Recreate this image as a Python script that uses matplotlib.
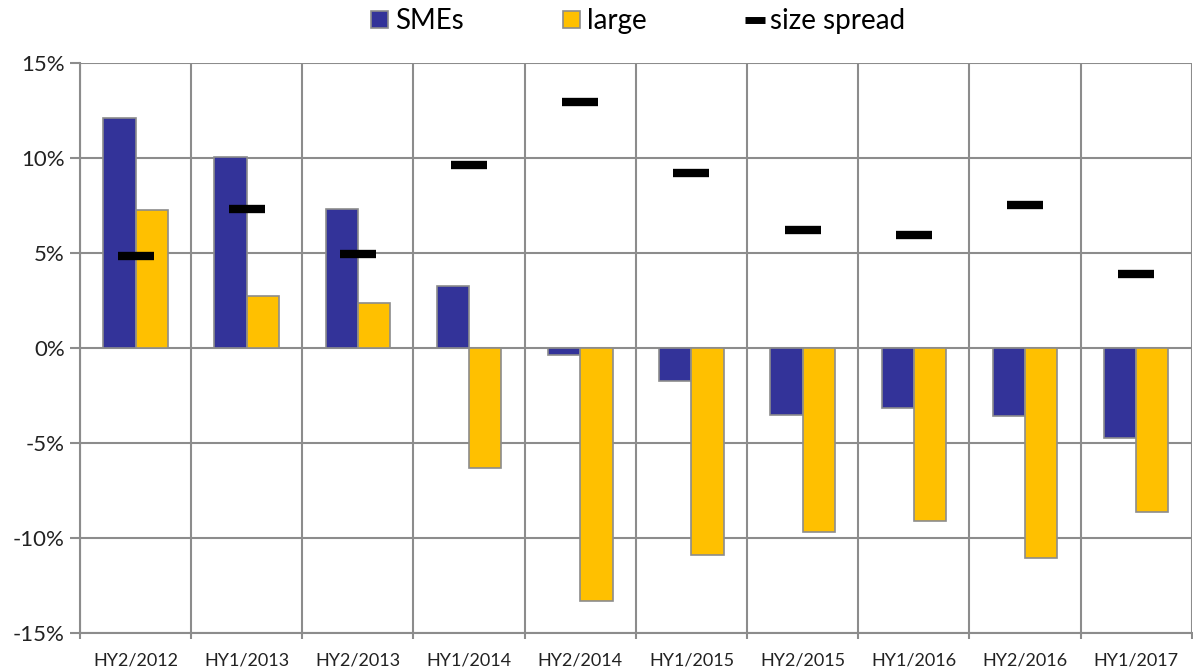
import matplotlib
matplotlib.use("Agg")
import matplotlib.pyplot as plt
from matplotlib.ticker import FixedLocator, FuncFormatter
from matplotlib.lines import Line2D
from matplotlib.patches import Patch
import numpy as np

plt.rcParams['font.family'] = ['Lato', 'DejaVu Sans']

categories = ["HY2/2012", "HY1/2013", "HY2/2013", "HY1/2014", "HY2/2014",
              "HY1/2015", "HY2/2015", "HY1/2016", "HY2/2016", "HY1/2017"]
smes = [12.1, 10.05, 7.3, 3.26, -0.37, -1.74, -3.5, -3.16, -3.58, -4.74]
large = [7.26, 2.74, 2.37, -6.3, -13.3, -10.9, -9.7, -9.1, -11.05, -8.63]
spread = [4.85, 7.3, 4.95, 9.65, 12.95, 9.2, 6.2, 5.95, 7.5, 3.9]
yticks = [-15, -10, -5, 0, 5, 10, 15]

c_sme = "#333399"
c_large = "#FFC000"
grid_c = "#8c8c8c"
edge_c = "#8c8c8c"

fig = plt.figure(figsize=(11.93, 6.68), dpi=100)
ax = fig.add_axes([0.067, 0.052, 0.932, 0.854])

x = np.arange(len(categories))
w = 0.29
ax.bar(x - w/2, smes, width=w, color=c_sme, edgecolor=edge_c, linewidth=1.2, zorder=3)
ax.bar(x + w/2, large, width=w, color=c_large, edgecolor=edge_c, linewidth=1.2, zorder=3)
ax.plot(x, spread, linestyle='none', marker='_', markersize=26, markeredgewidth=6,
        color='black', zorder=4)

ax.set_xlim(-0.5, len(categories) - 0.5)
ax.set_ylim(-15, 15)
ax.yaxis.set_major_locator(FixedLocator(yticks))
ax.yaxis.set_major_formatter(FuncFormatter(lambda v, p: f"{int(v)}%"))
ax.set_xticks(x)
ax.set_xticklabels(categories, fontsize=13)
ax.xaxis.set_minor_locator(FixedLocator(np.arange(-0.5, len(categories), 1.0)))
ax.tick_params(axis='x', which='major', length=0, pad=14)
ax.tick_params(axis='x', which='minor', length=4, color=grid_c, width=1.5)
ax.tick_params(axis='y', which='major', length=7, color=grid_c, width=1.5,
               labelsize=16, pad=4)
for lab in ax.get_yticklabels():
    lab.set_color('#222222')
for lab in ax.get_xticklabels():
    lab.set_color('#222222')

ax.grid(axis='y', which='major', color=grid_c, linewidth=1.5, zorder=0)
ax.grid(axis='x', which='minor', color=grid_c, linewidth=1.5, zorder=0)
ax.grid(axis='x', which='major', visible=False)
for s in ['top', 'right']:
    ax.spines[s].set_visible(False)
for s in ['left', 'bottom']:
    ax.spines[s].set_color(grid_c)
    ax.spines[s].set_linewidth(1.5)

handles = [
    Patch(facecolor=c_sme, edgecolor=edge_c, linewidth=1.2, label='SMEs'),
    Patch(facecolor=c_large, edgecolor=edge_c, linewidth=1.2, label='large'),
    Line2D([0], [0], linestyle='none', marker='_', markersize=15, markeredgewidth=5,
           color='black', label='size spread'),
]
fig.legend(handles=handles, loc='upper center', bbox_to_anchor=(0.535, 1.025),
           ncol=3, frameon=False, fontsize=20, handlelength=0.6, handleheight=0.6,
           handletextpad=0.25, columnspacing=3.6)

fig.savefig("out.png", dpi=100)
